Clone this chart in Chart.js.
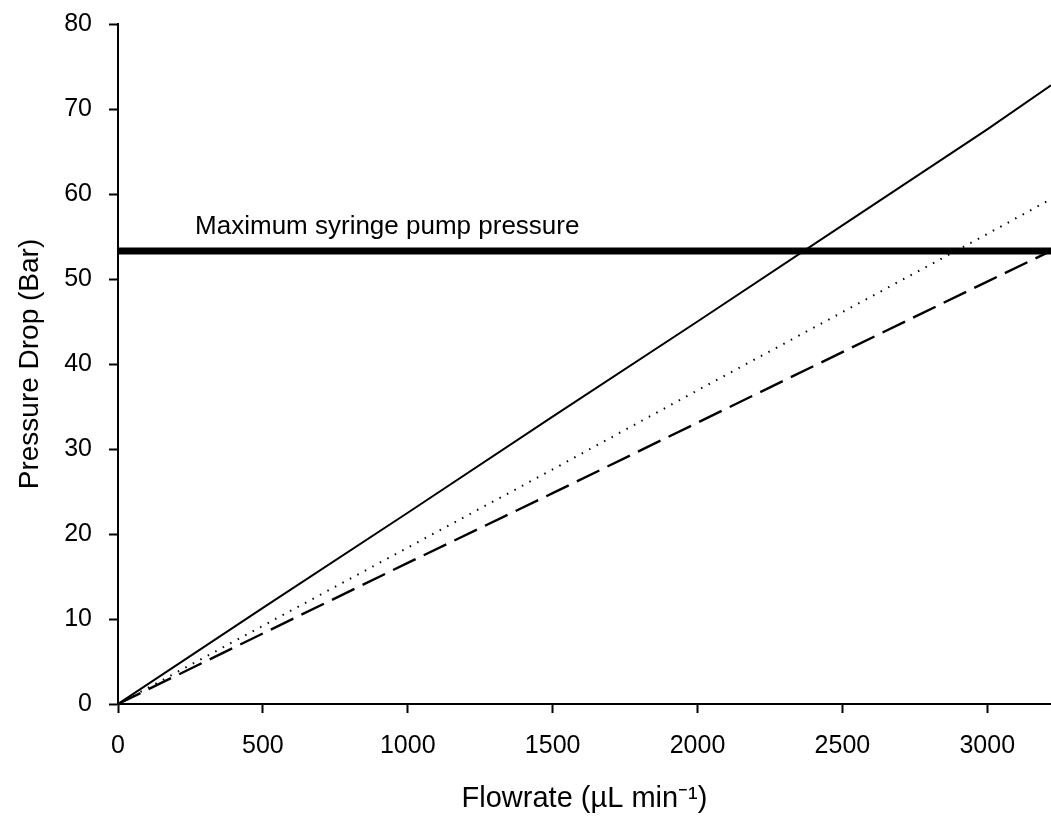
<!DOCTYPE html>
<html>
<head>
<meta charset="utf-8">
<script src="https://cdn.jsdelivr.net/npm/chart.js@4/dist/chart.umd.min.js"></script>
<style>
  html, body { margin: 0; padding: 0; background: #fff; }
  #chart { display: block; }
</style>
</head>
<body>
<canvas id="chart" width="1051" height="816"></canvas>
<script>
// flowrate samples (uL/min) and pressure drop (bar)
const flowrates = [0, 500, 1000, 1500, 2000, 2500, 3000, 3220];
const solidDrop = [0, 11.3, 22.5, 33.8, 45.0, 56.3, 67.6, 72.8];
const dottedDrop = [0, 9.2, 18.4, 27.6, 36.9, 46.1, 55.3, 59.4];
const dashedDrop = [0, 8.3, 16.6, 24.8, 33.1, 41.4, 49.7, 53.3];
const pumpLimit = 53.3;
const pumpLabel = 'Maximum syringe pump pressure';
const xTicks = [0, 500, 1000, 1500, 2000, 2500, 3000];
const yTicks = [0, 10, 20, 30, 40, 50, 60, 70, 80];

const FONT = "'Liberation Sans', Arial, sans-serif";

function pts(ys) {
    return flowrates.map((x, i) => ({ x: x, y: ys[i] }));
}

const labelPlugin = {
    id: 'pumpLabel',
    afterDatasetsDraw(chart) {
        const ctx = chart.ctx;
        const xs = chart.scales.x;
        const ys = chart.scales.y;
        ctx.save();
        ctx.font = '26px ' + FONT;
        ctx.fillStyle = '#000';
        ctx.textBaseline = 'alphabetic';
        ctx.textAlign = 'left';
        ctx.fillText(pumpLabel, xs.getPixelForValue(266), ys.getPixelForValue(pumpLimit) - 17);
        ctx.restore();
    }
};

const config = {
    type: 'line',
    data: {
        datasets: [
            {
                label: 'solid',
                data: pts(solidDrop),
                borderColor: '#000',
                borderWidth: 2,
                pointRadius: 0,
                fill: false
            },
            {
                label: 'dotted',
                data: pts(dottedDrop),
                borderColor: '#000',
                borderWidth: 2,
                borderDash: [1.5, 7],
                pointRadius: 0,
                fill: false
            },
            {
                label: 'dashed',
                data: pts(dashedDrop),
                borderColor: '#000',
                borderWidth: 2.4,
                borderDash: [25, 9],
                pointRadius: 0,
                fill: false
            },
            {
                label: 'limit',
                data: [{ x: 0, y: pumpLimit }, { x: 3220, y: pumpLimit }],
                borderColor: '#000',
                borderWidth: 7,
                pointRadius: 0,
                fill: false
            }
        ]
    },
    options: {
        responsive: false,
        animation: false,
        layout: { padding: { top: 24, right: 0, left: 0, bottom: 0 } },
        plugins: {
            legend: { display: false },
            tooltip: { enabled: false }
        },
        scales: {
            x: {
                type: 'linear',
                min: 0,
                max: 3220,
                afterFit(scale) {
                    scale.height = 112;
                    scale.paddingLeft = 0;
                    scale.paddingRight = 0;
                },
                afterBuildTicks(scale) { scale.ticks = xTicks.map(v => ({ value: v })); },
                border: { display: true, color: '#000', width: 2 },
                grid: { drawOnChartArea: false, drawTicks: true, tickLength: 9, tickColor: '#000', tickWidth: 2 },
                ticks: {
                    color: '#000',
                    font: { family: FONT, size: 25 },
                    padding: 18,
                    maxRotation: 0,
                    callback: v => String(v)
                },
                title: {
                    display: true,
                    text: 'Flowrate (\u00b5L min\u207b\u00b9)',
                    color: '#000',
                    font: { family: FONT, size: 29 },
                    padding: { top: 0, bottom: 0 }
                }
            },
            y: {
                type: 'linear',
                min: 0,
                max: 80,
                afterFit(scale) {
                    scale.width = 118;
                    scale.paddingTop = 0;
                    scale.paddingBottom = 0;
                },
                afterBuildTicks(scale) { scale.ticks = yTicks.map(v => ({ value: v })); },
                border: { display: true, color: '#000', width: 2 },
                grid: { drawOnChartArea: false, drawTicks: true, tickLength: 9, tickColor: '#000', tickWidth: 2 },
                ticks: {
                    color: '#000',
                    font: { family: FONT, size: 25 },
                    padding: 17,
                    callback: v => String(v)
                },
                title: {
                    display: true,
                    text: 'Pressure Drop (Bar)',
                    color: '#000',
                    font: { family: FONT, size: 28 },
                    padding: { top: 13, bottom: 0 }
                }
            }
        }
    },
    plugins: [labelPlugin]
};

new Chart(document.getElementById('chart').getContext('2d'), config);
</script>
</body>
</html>
